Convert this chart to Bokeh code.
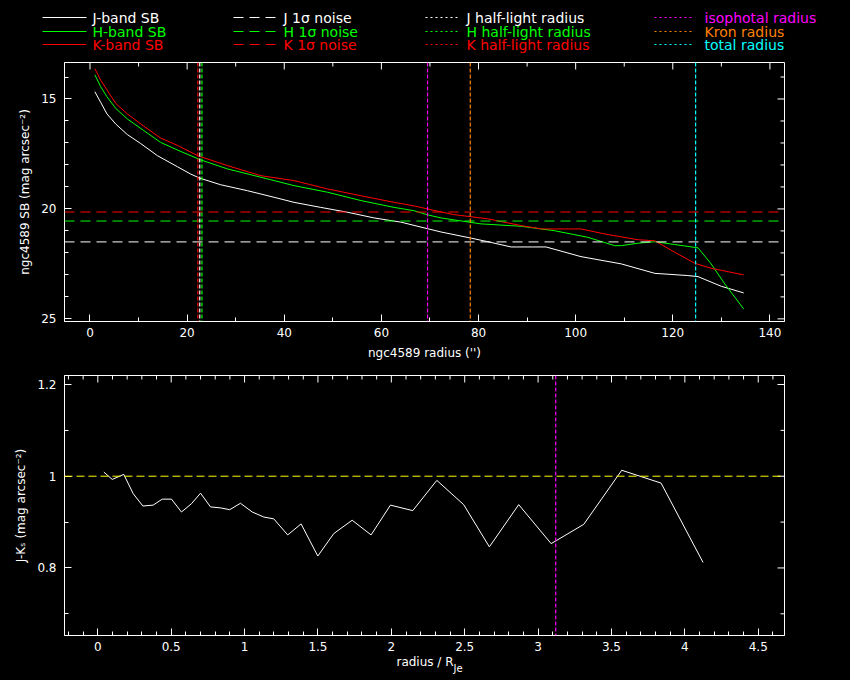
import numpy as np
from bokeh.plotting import figure
from bokeh.layouts import column, row
from bokeh.models import (Range1d, Span, FixedTicker, PrintfTickFormatter, ColumnDataSource)
from bokeh.core.properties import value
from bokeh.embed import file_html
from bokeh.resources import INLINE

FONT = "DejaVu Sans"
WHITE, GREEN, RED = "#ffffff", "#00ff00", "#ff0000"
MAGENTA, ORANGE, CYAN, YELLOW = "#ff00ff", "#ff8000", "#00ffff", "#ffff00"

# ---------------- data: surface-brightness profiles ----------------
r_J = [1.0, 2.2, 3.5, 5.3, 7.7, 10.4, 13.9, 18.0, 20.7, 22.6, 26.9, 32.4, 37.9, 42.0,
       47.5, 53.0, 58.5, 64.0, 69.5, 72.3, 78.5, 81.9, 86.7, 93.9, 101.1, 109.4,
       116.3, 123.1, 125.2, 130.0, 134.6]
sb_J = [14.67, 15.15, 15.68, 16.14, 16.62, 17.02, 17.58, 18.08, 18.41, 18.60, 18.90,
        19.17, 19.47, 19.70, 19.93, 20.15, 20.41, 20.60, 20.90, 21.05, 21.33, 21.49,
        21.73, 21.73, 22.17, 22.50, 22.93, 23.03, 23.08, 23.52, 23.82]

r_H = [1.0, 2.2, 3.5, 5.3, 7.7, 11.1, 14.5, 18.0, 22.8, 28.3, 35.2, 42.0, 48.9, 55.8,
       62.6, 66.7, 69.5, 72.3, 75.0, 80.5, 88.8, 95.6, 102.5, 108.0, 109.4, 112.8,
       116.3, 120.4, 125.2, 127.9, 130.7, 134.6]
sb_H = [13.90, 14.44, 14.90, 15.43, 15.91, 16.44, 16.97, 17.32, 17.77, 18.18, 18.56,
        18.94, 19.24, 19.62, 19.93, 20.08, 20.27, 20.41, 20.50, 20.68, 20.79, 20.99,
        21.29, 21.67, 21.67, 21.56, 21.49, 21.62, 21.77, 22.50, 23.41, 24.55]

r_K = [1.0, 2.2, 3.5, 5.3, 7.7, 11.1, 14.5, 18.0, 22.2, 28.3, 35.2, 42.0, 48.9, 55.8,
       62.6, 66.7, 72.3, 75.0, 81.9, 88.8, 93.0, 101.1, 106.0, 112.8, 116.3, 120.4,
       124.5, 127.9, 134.6]
sb_K = [13.62, 14.14, 14.59, 15.20, 15.68, 16.24, 16.77, 17.11, 17.58, 18.03, 18.49,
        18.71, 19.09, 19.40, 19.70, 19.86, 20.14, 20.26, 20.45, 20.76, 20.91, 20.91,
        21.14, 21.40, 21.45, 21.97, 22.47, 22.70, 23.00]

noise_J, noise_H, noise_K = 21.50, 20.55, 20.14
halflight_J, halflight_H, halflight_K = 22.6, 23.05, 22.2
r_isophotal, r_kron, r_total = 69.5, 78.3, 124.7

# ---------------- data: J-Ks colour profile ----------------
r_norm = [0.041, 0.098, 0.177, 0.241, 0.307, 0.377, 0.439, 0.502, 0.570, 0.638, 0.700,
          0.768, 0.836, 0.899, 0.972, 1.052, 1.131, 1.199, 1.294, 1.385, 1.499, 1.608,
          1.733, 1.862, 1.994, 2.146, 2.310, 2.493, 2.668, 2.868, 3.089, 3.311, 3.570,
          3.838, 4.124]
j_minus_k = [1.009, 0.993, 1.004, 0.962, 0.935, 0.937, 0.950, 0.950, 0.922, 0.940, 0.963,
             0.933, 0.931, 0.927, 0.941, 0.922, 0.911, 0.907, 0.872, 0.896, 0.826, 0.875,
             0.904, 0.872, 0.937, 0.925, 0.991, 0.938, 0.846, 0.938, 0.853, 0.895, 1.013,
             0.985, 0.812]
jk_reference = 1.0
r_norm_marker = 3.12

# ---------------- tick labels ----------------
ticks_x1 = [0, 20, 40, 60, 80, 100, 120, 140]
ticks_y1 = [15, 20, 25]
ticks_x2 = [0, 0.5, 1, 1.5, 2, 2.5, 3, 3.5, 4, 4.5]
ticks_y2 = [0.8, 1.0, 1.2]

# ---------------- legend entries ----------------
legend_text = [["J-band SB", "H-band SB", "K-band SB"],
               ["J 1σ noise", "H 1σ noise", "K 1σ noise"],
               ["J half-light radius", "H half-light radius", "K half-light radius"],
               ["isophotal radius", "Kron radius", "total radius"]]
legend_colors = [[WHITE, GREEN, RED], [WHITE, GREEN, RED], [WHITE, GREEN, RED],
                 [MAGENTA, ORANGE, CYAN]]
legend_dash = ["solid", "10 6", "2 3", "2 3"]

W = 842
BL, BR = 64, 58
FW = W - BL - BR

# ---------------- legend figure ----------------
LH = 60
leg = figure(width=W, height=LH, x_range=Range1d(0, W), y_range=Range1d(LH, 0),
             output_backend="svg", toolbar_location=None,
             background_fill_color="black", border_fill_color="black",
             outline_line_color=None, min_border=0)
leg.axis.visible = False
leg.grid.visible = False
col_line_x = [(42, 86), (233, 277), (425, 457), (654, 694)]
col_text_x = [92, 283, 466, 704]
row_y = [17, 31, 44]
for c in range(4):
    for rr in range(3):
        leg.segment(x0=[col_line_x[c][0]], x1=[col_line_x[c][1]], y0=[row_y[rr]], y1=[row_y[rr]],
                    line_color=legend_colors[c][rr], line_width=1, line_dash=legend_dash[c])
    src = ColumnDataSource(dict(x=[col_text_x[c]] * 3, y=row_y, t=legend_text[c],
                                col=legend_colors[c]))
    leg.text(x="x", y="y", text="t", text_color="col", source=src,
             text_font=value(FONT), text_font_size="14px", text_baseline="middle",
             text_align="left")


def style_axis(ax, major, minor, standoff):
    ax.ticker = FixedTicker(ticks=major, minor_ticks=minor)
    ax.formatter = PrintfTickFormatter(format="%g")
    ax.axis_line_color = "white"
    ax.major_tick_line_color = "white"
    ax.minor_tick_line_color = "white"
    ax.major_tick_in = 7
    ax.major_tick_out = 0
    ax.minor_tick_in = 4
    ax.minor_tick_out = 0
    ax.major_label_text_color = "white"
    ax.major_label_text_font = FONT
    ax.major_label_text_font_size = "12px"
    ax.major_label_standoff = standoff
    ax.axis_label_text_color = "white"
    ax.axis_label_text_font = FONT
    ax.axis_label_text_font_style = "normal"
    ax.axis_label_text_font_size = "12px"
    ax.axis_label_standoff = 6


def make_fig(height, xr, yr, top, bottom):
    f = figure(width=W, height=height, x_range=xr, y_range=yr,
               output_backend="svg", toolbar_location=None,
               background_fill_color="black", border_fill_color="black",
               outline_line_color="white", min_border_left=BL, min_border_right=BR,
               min_border_top=top, min_border_bottom=bottom)
    f.grid.visible = False
    return f


def opposite_ticks(f, xr, yr, fh, xmaj, xmin, ymaj, ymin):
    """tick marks on the top and right frame edges, pointing inward"""
    dy = (yr.end - yr.start) / fh
    dx = (xr.end - xr.start) / FW
    for vals, ln in [(xmaj, 7), (xmin, 4)]:
        v = np.array(vals, dtype=float)
        f.segment(x0=v, x1=v, y0=np.full(len(v), yr.end), y1=np.full(len(v), yr.end - ln * dy),
                  line_color="white", line_width=1)
    for vals, ln in [(ymaj, 7), (ymin, 4)]:
        v = np.array(vals, dtype=float)
        f.segment(x0=np.full(len(v), xr.end), x1=np.full(len(v), xr.end - ln * dx), y0=v, y1=v,
                  line_color="white", line_width=1)


# ---------------- top: surface brightness ----------------
xr1 = Range1d(-5.25, 143.0)
yr1 = Range1d(25.12, 13.34)
FH1 = 259
p1 = make_fig(305, xr1, yr1, 2, 44)
minor_x1 = [v for v in range(0, 150, 10) if v not in ticks_x1]
minor_y1 = [v for v in range(14, 26) if v not in ticks_y1]
style_axis(p1.xaxis[0], ticks_x1, minor_x1, 6)
style_axis(p1.yaxis[0], ticks_y1, minor_y1, 8)
p1.xaxis[0].axis_label = "ngc4589 radius ('')"
p1.yaxis[0].axis_label = "ngc4589 SB (mag arcsec⁻²)"
opposite_ticks(p1, xr1, yr1, FH1, ticks_x1, minor_x1, ticks_y1, minor_y1)

for loc, colr in [(noise_J, WHITE), (noise_H, GREEN), (noise_K, RED)]:
    p1.add_layout(Span(location=loc, dimension="width", line_color=colr,
                       line_width=1, line_dash="10 6"))
for loc, colr in [(halflight_J, WHITE), (halflight_H, GREEN), (halflight_K, RED),
                  (r_isophotal, MAGENTA), (r_kron, ORANGE), (r_total, CYAN)]:
    p1.add_layout(Span(location=loc, dimension="height", line_color=colr,
                       line_width=1.2, line_dash="4 2"))
p1.line(r_J, sb_J, line_color=WHITE, line_width=1)
p1.line(r_H, sb_H, line_color=GREEN, line_width=1)
p1.line(r_K, sb_K, line_color=RED, line_width=1)

# ---------------- bottom: colour ----------------
xr2 = Range1d(-0.227, 4.679)
yr2 = Range1d(0.6527, 1.2196)
FH2 = 260
p2 = make_fig(290, xr2, yr2, 10, 20)
minor_x2 = [round(0.1 * i, 1) for i in range(-2, 47) if i % 5 != 0]
minor_y2 = [0.7, 0.9, 1.1]
style_axis(p2.xaxis[0], ticks_x2, minor_x2, 6)
style_axis(p2.yaxis[0], ticks_y2, minor_y2, 8)
p2.yaxis[0].axis_label = "J-Kₛ (mag arcsec⁻²)"
opposite_ticks(p2, xr2, yr2, FH2, ticks_x2, minor_x2, ticks_y2, minor_y2)

p2.add_layout(Span(location=jk_reference, dimension="width", line_color=YELLOW,
                   line_width=1, line_dash="8 4"))
p2.add_layout(Span(location=r_norm_marker, dimension="height", line_color=MAGENTA,
                   line_width=1.2, line_dash="4 2"))
p2.line(r_norm, j_minus_k, line_color=WHITE, line_width=1)

# ---------------- x-axis title of the bottom panel (with subscript) ----------------
xl = figure(width=W, height=20, x_range=xr2, y_range=Range1d(20, 0),
            output_backend="svg", toolbar_location=None,
            background_fill_color="black", border_fill_color="black",
            outline_line_color=None, min_border_left=BL, min_border_right=BR,
            min_border_top=0, min_border_bottom=0)
xl.axis.visible = False
xl.grid.visible = False
title_x = 2.424
xl.text(x=[title_x], y=[6], text=["radius / R"], text_color="white", text_align="right",
        text_baseline="middle", text_font=value(FONT), text_font_size="12px")
xl.text(x=[title_x], y=[13], text=["Je"], text_color="white", text_align="left",
        text_baseline="middle", text_font=value(FONT), text_font_size="10px")

layout = column(row(leg), column(p1, p2, xl, spacing=0), spacing=0,
                styles={"background-color": "black"})

html = file_html(layout, INLINE)
html = html.replace("</head>", "<style>html, body { background-color: #000000; }</style></head>", 1)
open("out.html", "w").write(html)
